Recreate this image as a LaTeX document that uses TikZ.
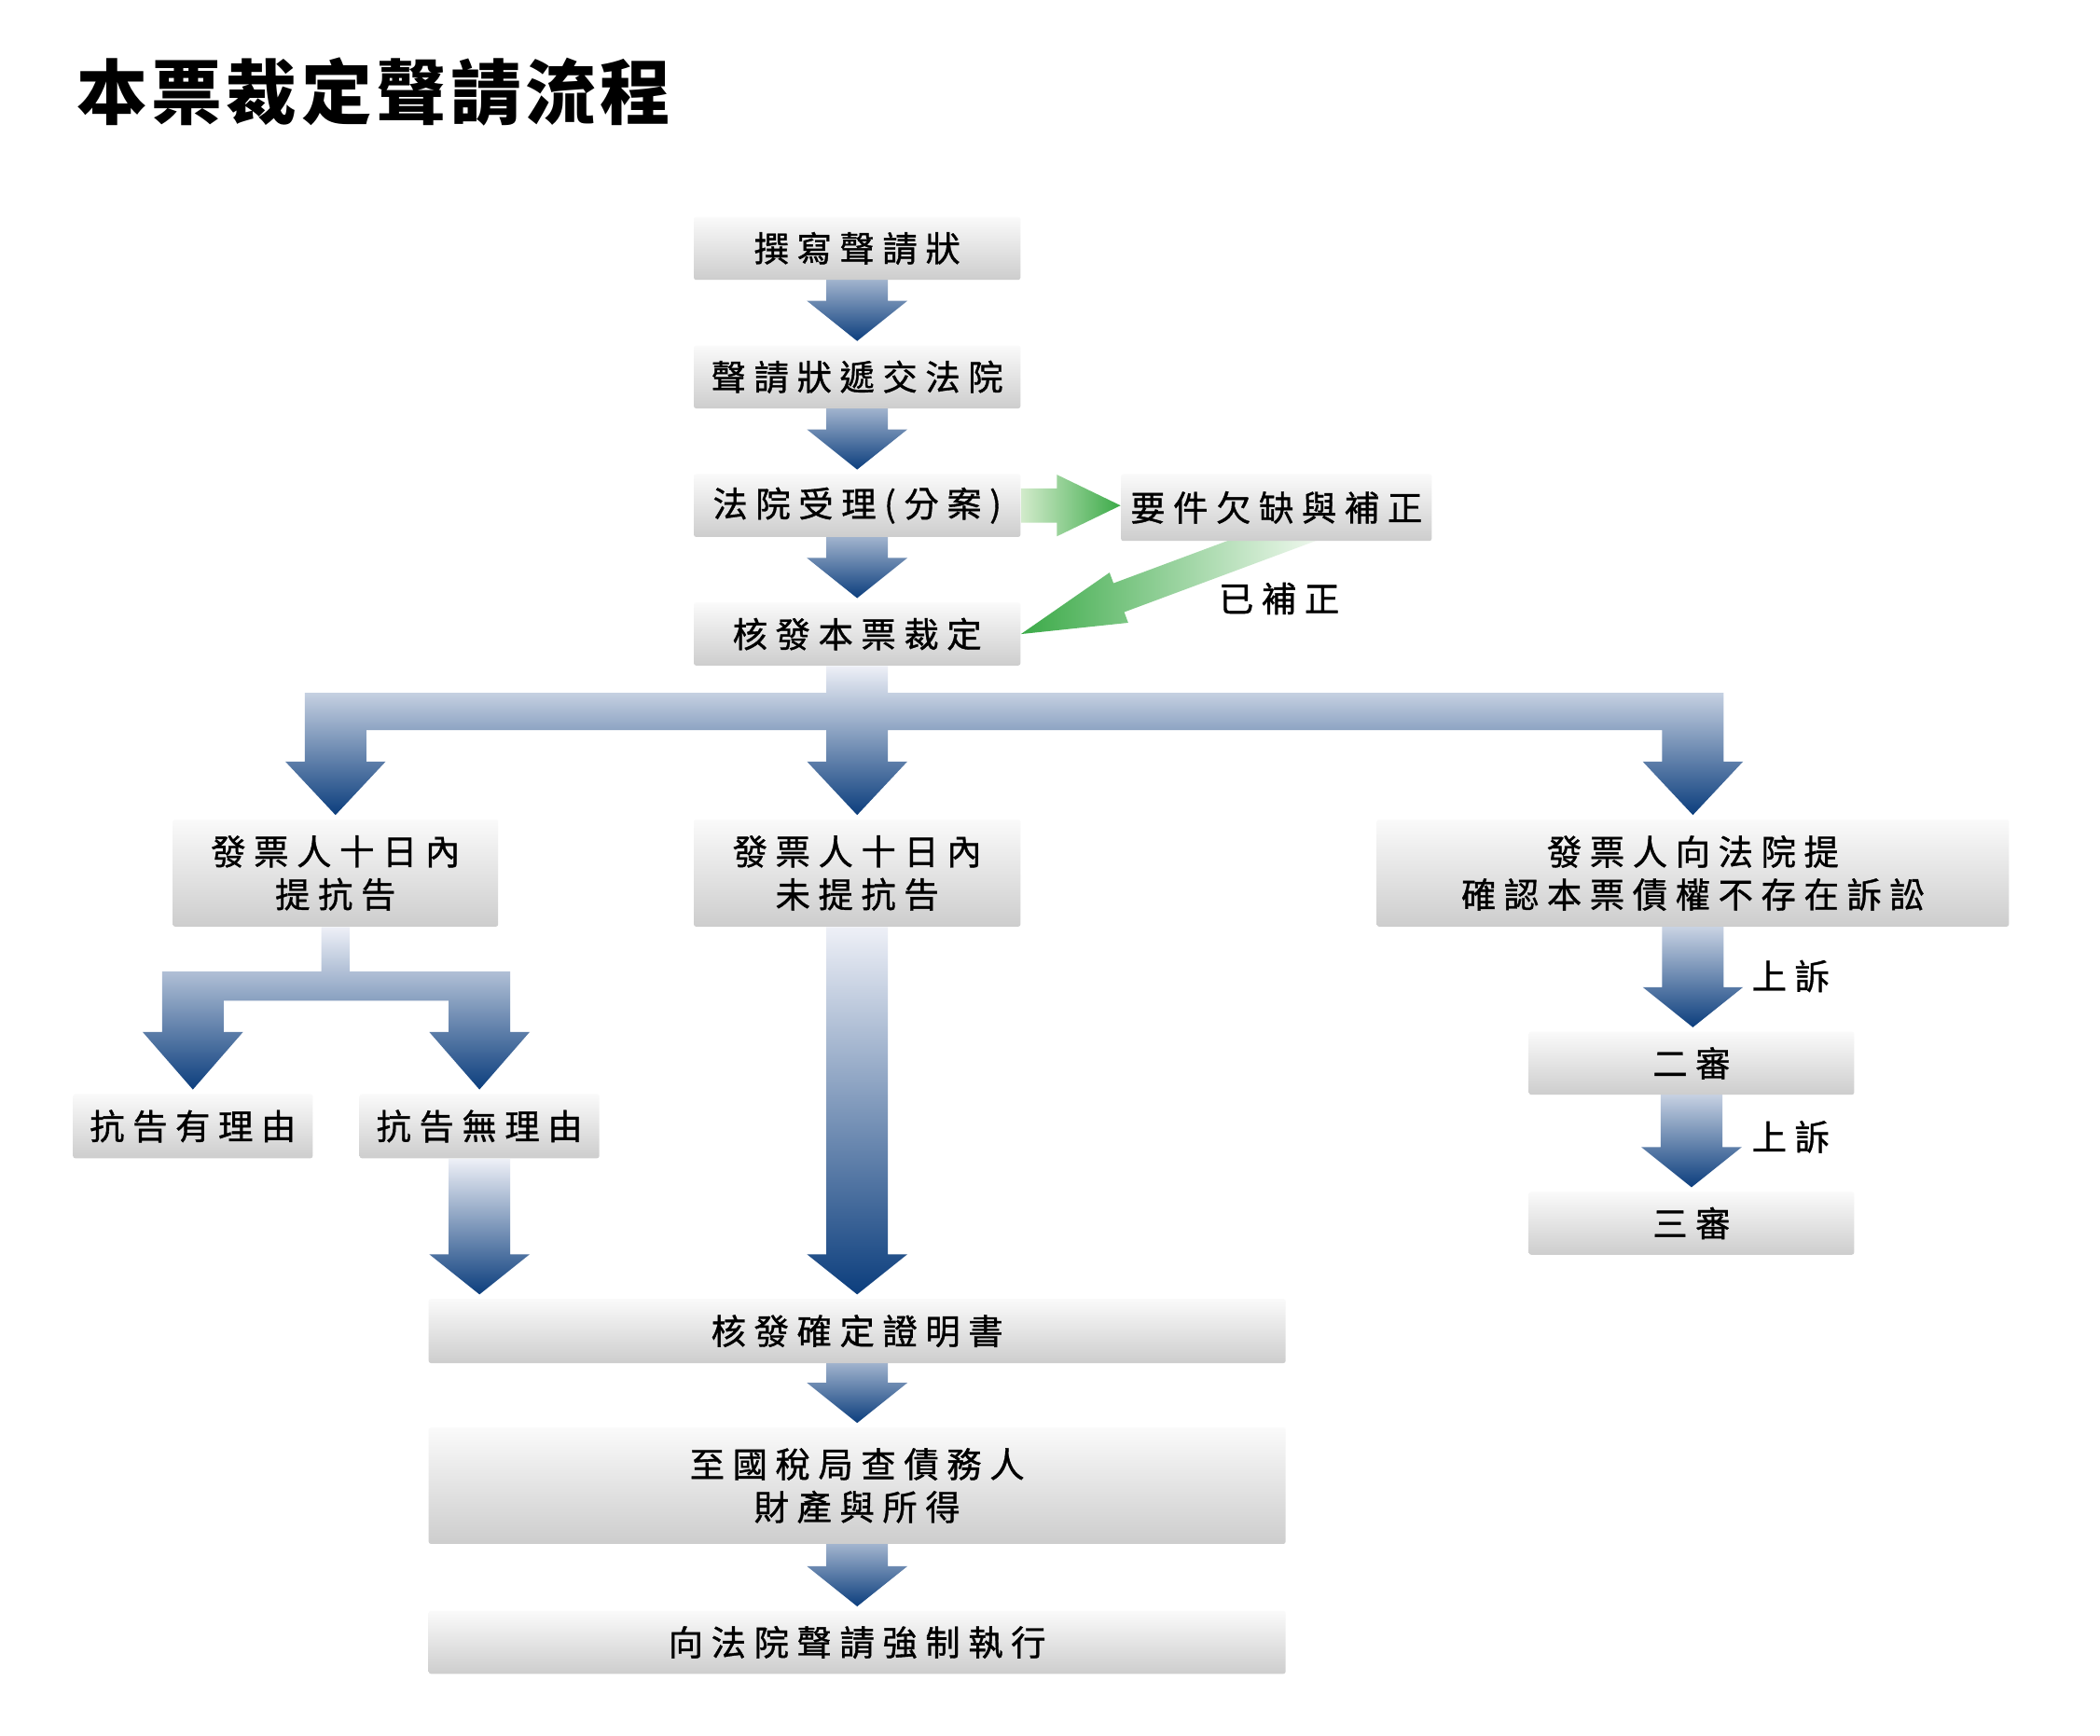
\documentclass[tikz,border=0pt]{standalone}
\usepackage{fontspec}
\usepackage{xcolor}
\usepackage{tikz}
\usetikzlibrary{calc,backgrounds}
\newfontfamily\cjk[LetterSpace=23, FakeBold=1]{Noto Sans CJK TC}
\newfontfamily\cjktitle[LetterSpace=6]{Noto Sans CJK TC}
\definecolor{boxtop}{HTML}{FAFAFA}
\definecolor{boxbot}{HTML}{CDCDCD}
\definecolor{arrtop}{HTML}{EEF0F7}
\definecolor{arrbot}{HTML}{0C3E7D}
\definecolor{grnlight}{HTML}{D2EBCB}
\definecolor{grnpale}{HTML}{F6FBF4}
\definecolor{grndark}{HTML}{3BAA48}
\tikzset{
  box/.style     ={top color=boxtop, bottom color=boxbot, rounded corners=1pt, minimum height=0.94cm, inner sep=0pt, align=center, font=\cjk\fontsize{14.8pt}{18.2pt}\selectfont},
  lbl/.style     ={inner sep=0pt, font=\cjk\fontsize{14.8pt}{18.2pt}\selectfont},
  heading/.style ={anchor=west, inner sep=0pt, font=\cjktitle\bfseries\fontsize{30pt}{34pt}\selectfont},
  blkarrow/.style={top color=arrtop, bottom color=arrbot},
  grnarrow/.style={left color=grnlight, right color=grndark},
}
\newcommand{\arrsw}{0.46cm}
\newcommand{\arrhw}{0.75cm}
\newcommand{\downarr}[3][0cm]{%
  \shade[blkarrow] let \p1=(#2.south), \p2=(#3.north) in
    (\x1-\arrsw,\y1+#1) -- (\x1+\arrsw,\y1+#1) -- (\x1+\arrsw,\y2+0.66cm) -- (\x1+\arrhw,\y2+0.66cm)
    -- (\x1,\y2+0.06cm) -- (\x1-\arrhw,\y2+0.66cm) -- (\x1-\arrsw,\y2+0.66cm) -- cycle;}

\begin{document}
\begin{tikzpicture}[x=0.02cm, y=-0.02cm]
  \useasboundingbox (0,0) rectangle (1568,1296);
  \node[heading] (title) at (57,68.5) {本票裁定聲請流程};

  \node[box, minimum width=4.88cm] (write)  at (640,185.5) {撰寫聲請狀};
  \node[box, minimum width=4.88cm] (submit) at (640,281.5) {聲請狀遞交法院};
  \node[box, minimum width=4.88cm] (accept) at (640,377.5) {法院受理(分案)};
  \node[box, minimum width=4.88cm] (order)  at (640,473.5) {核發本票裁定};
  \node[box, minimum width=4.64cm, minimum height=1.0cm] (fix) at (953,379) {要件欠缺與補正};
  \node[lbl] (fixed) at (955,447) {已補正};

  \node[box, minimum width=4.86cm, minimum height=1.6cm] (appeal)   at (250.5,652) {發票人十日內\\提抗告};
  \node[box, minimum width=4.88cm, minimum height=1.6cm] (noappeal) at (640,652) {發票人十日內\\未提抗告};
  \node[box, minimum width=9.44cm, minimum height=1.6cm] (suit)     at (1264,652) {發票人向法院提\\確認本票債權不存在訴訟};

  \node[box, minimum width=3.58cm, minimum height=0.96cm] (valid)   at (144,841) {抗告有理由};
  \node[box, minimum width=3.58cm, minimum height=0.96cm] (invalid) at (358,841) {抗告無理由};

  \node[box, minimum width=12.8cm, minimum height=0.96cm] (cert)   at (640,994) {核發確定證明書};
  \node[box, minimum width=12.8cm, minimum height=1.74cm] (search) at (640,1109.5) {至國稅局查債務人\\財產與所得};
  \node[box, minimum width=12.8cm] (exec) at (640,1226.5) {向法院聲請強制執行};

  \node[box, minimum width=4.86cm] (second) at (1263,794) {二審};
  \node[box, minimum width=4.86cm] (third)  at (1263,913.5) {三審};
  \node[lbl] (up1) at (1337,729) {上訴};
  \node[lbl] (up2) at (1337,849) {上訴};

  \begin{pgfonlayer}{background}
    \fill[white] (0,0) rectangle (1568,1296);
    \downarr[0.48cm]{write}{submit}
    \downarr[0.48cm]{submit}{accept}
    \downarr[0.48cm]{accept}{order}
    \shade[blkarrow] let \p1=(order.south), \p2=(appeal.north), \p3=(suit.north) in
      (\x1-\arrsw,\y1) -- (\x1+\arrsw,\y1) -- (\x1+\arrsw,\y1-0.4cm) -- (\x3+\arrsw,\y1-0.4cm)
      -- (\x3+\arrsw,\y3+0.86cm) -- (\x3+\arrhw,\y3+0.86cm) -- (\x3,\y3+0.06cm) -- (\x3-\arrhw,\y3+0.86cm)
      -- (\x3-\arrsw,\y3+0.86cm) -- (\x3-\arrsw,\y1-0.96cm) -- (\x1+\arrsw,\y1-0.96cm)
      -- (\x1+\arrsw,\y2+0.86cm) -- (\x1+\arrhw,\y2+0.86cm) -- (\x1,\y2+0.06cm) -- (\x1-\arrhw,\y2+0.86cm)
      -- (\x1-\arrsw,\y2+0.86cm) -- (\x1-\arrsw,\y1-0.96cm) -- (\x2+\arrsw,\y1-0.96cm)
      -- (\x2+\arrsw,\y2+0.86cm) -- (\x2+\arrhw,\y2+0.86cm) -- (\x2,\y2+0.06cm) -- (\x2-\arrhw,\y2+0.86cm)
      -- (\x2-\arrsw,\y2+0.86cm) -- (\x2-\arrsw,\y1-0.4cm) -- (\x1-\arrsw,\y1-0.4cm) -- cycle;
    \shade[blkarrow] let \p1=(appeal.south), \p2=(valid.north), \p3=(invalid.north) in
      (\x1-0.21cm,\y1) -- (\x1+0.21cm,\y1) -- (\x1+0.21cm,\y1-0.66cm) -- (\x3+\arrsw,\y1-0.66cm)
      -- (\x3+\arrsw,\y3+0.92cm) -- (\x3+\arrhw,\y3+0.92cm) -- (\x3,\y3+0.06cm) -- (\x3-\arrhw,\y3+0.92cm)
      -- (\x3-\arrsw,\y3+0.92cm) -- (\x3-\arrsw,\y1-1.1cm) -- (\x2+\arrsw,\y1-1.1cm)
      -- (\x2+\arrsw,\y2+0.92cm) -- (\x2+\arrhw,\y2+0.92cm) -- (\x2,\y2+0.06cm) -- (\x2-\arrhw,\y2+0.92cm)
      -- (\x2-\arrsw,\y2+0.92cm) -- (\x2-\arrsw,\y1-0.66cm) -- (\x1-0.21cm,\y1-0.66cm) -- cycle;
    \downarr{noappeal}{cert}
    \downarr{invalid}{cert}
    \downarr[0.48cm]{cert}{search}
    \downarr[0.48cm]{search}{exec}
    \downarr[0.3cm]{suit}{second}
    \downarr[0.3cm]{second}{third}

    \shade[grnarrow] let \p1=(accept.east), \p2=(fix.west) in
      (\x1,\y1+0.255cm) -- (\x2-0.95cm,\y1+0.255cm) -- (\x2-0.95cm,\y1+0.46cm) -- (\x2,\y1)
      -- (\x2-0.95cm,\y1-0.46cm) -- (\x2-0.95cm,\y1-0.255cm) -- (\x1,\y1-0.255cm) -- cycle;
    \shade[left color=grndark, right color=grnpale] (order.east)
      -- ($(order.east)+(20.4:1.56cm)+(-69.6:0.4cm)$) -- ($(order.east)+(20.4:1.56cm)+(-69.6:0.23cm)$)
      -- ($(order.east)+(20.4:4.8cm)+(-69.6:0.23cm)$) -- ($(order.east)+(20.4:4.8cm)+(110.4:0.23cm)$)
      -- ($(order.east)+(20.4:1.56cm)+(110.4:0.23cm)$) -- ($(order.east)+(20.4:1.56cm)+(110.4:0.4cm)$) -- cycle;
  \end{pgfonlayer}
\end{tikzpicture}
\end{document}
